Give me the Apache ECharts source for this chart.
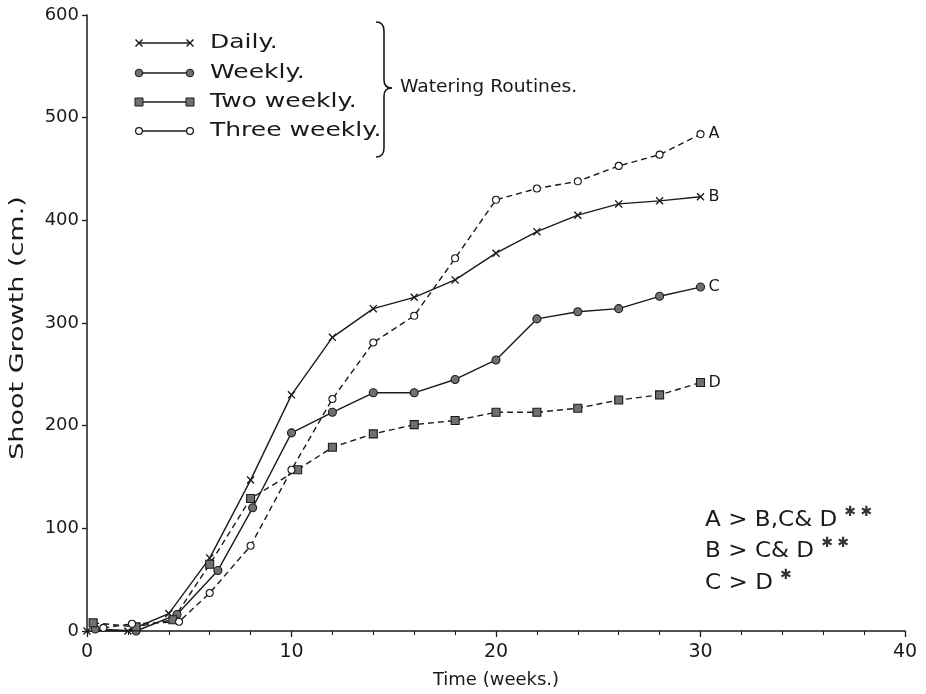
<!DOCTYPE html>
<html>
<head>
<meta charset="utf-8">
<script src="https://cdn.jsdelivr.net/npm/echarts@6/dist/echarts.min.js"></script>
<style>html,body{margin:0;padding:0;background:#fff}#c{width:926px;height:694px}</style>
</head>
<body>
<div id="c"></div>
<script>
// Data: [week, shoot growth cm]
const dailyData = [[0,0],[2,0],[4,17],[6,71],[8,147],[10,230],[12,286],[14,314],[16,325],[18,342],[20,368],[22,389],[24,405],[26,416],[28,419],[30,423]];
const weeklyData = [[0.4,2],[2.4,0],[4.4,16],[6.4,59],[8.1,120],[10,193],[12,213],[14,232],[16,232],[18,245],[20,264],[22,304],[24,311],[26,314],[28,326],[30,335]];
const twoWeeklyData = [[0.3,8],[2.4,4],[4.2,11],[6,65],[8,129],[10.3,157],[12,179],[14,192],[16,201],[18,205],[20,213],[22,213],[24,217],[26,225],[28,230],[30,242]];
const threeWeeklyData = [[0.8,3],[2.2,7],[4.5,9],[6,37],[8,83],[10,157],[12,226],[14,281],[16,307],[18,363],[20,420],[22,431],[24,438],[26,453],[28,464],[30,484]];
const seriesNames = ['Daily.','Weekly.','Two weekly.','Three weekly.'];
const endLetters = ['B','C','D','A'];
const yTicks = [0,100,200,300,400,500,600];
const xTicks = [0,10,20,30,40];
const statLines = ['A > B,C& D','B > C& D','C > D'];
const statStars = ['✱ ✱','✱ ✱','✱'];

const FONT = 'DejaVu Sans';
const INK = '#1a1a1a';
const GREY = '#707070';
const crossPath = 'path://M0,1.2 L1.2,0 L10,8.8 L8.8,10 Z M8.8,0 L10,1.2 L1.2,10 L0,8.8 Z';

const chart = echarts.init(document.getElementById('c'), null, {renderer:'canvas'});

function mkSeries(name, data, symbol, size, fill, dash, letter) {
  return {
    name: name, type: 'line', data: data,
    symbol: symbol, symbolSize: size, showAllSymbol: true,
    lineStyle: {color: INK, width: 1.4, type: dash},
    itemStyle: {color: fill, borderColor: INK, borderWidth: symbol === crossPath ? 0 : 1.1},
    endLabel: {show: true, formatter: letter, color: INK, fontFamily: FONT, fontSize: 16, distance: 8},
    z: 3, animation: false
  };
}

const legendY = [43, 73, 102, 131];
const G = [];
const lx1 = 139, lx2 = 190;
legendY.forEach((y, i) => {
  G.push({type:'line', shape:{x1:lx1, y1:y, x2:lx2, y2:y}, style:{stroke:INK, lineWidth:1.4}});
  [lx1, lx2].forEach(x => {
    if (i === 0) {
      G.push({type:'line', shape:{x1:x-3.5, y1:y-3.5, x2:x+3.5, y2:y+3.5}, style:{stroke:INK, lineWidth:1.4}});
      G.push({type:'line', shape:{x1:x-3.5, y1:y+3.5, x2:x+3.5, y2:y-3.5}, style:{stroke:INK, lineWidth:1.4}});
    } else if (i === 1) {
      G.push({type:'circle', shape:{cx:x, cy:y, r:3.8}, style:{fill:GREY, stroke:INK, lineWidth:1}});
    } else if (i === 2) {
      G.push({type:'rect', shape:{x:x-4, y:y-4, width:8, height:8}, style:{fill:GREY, stroke:INK, lineWidth:1}});
    } else {
      G.push({type:'circle', shape:{cx:x, cy:y, r:3.4}, style:{fill:'#fff', stroke:INK, lineWidth:1.3}});
    }
  });
  G.push({type:'text', x:210, y:y, scaleX:1.25, style:{text:seriesNames[i], font:'20px '+FONT, fill:INK, verticalAlign:'middle'}});
});
// brace
const braceStyle = {stroke:INK, fill:null, lineWidth:1.6};
G.push({type:'bezierCurve', shape:{x1:376,y1:22,x2:384,y2:31,cpx1:384,cpy1:22}, style:braceStyle});
G.push({type:'line', shape:{x1:384,y1:31,x2:384,y2:80}, style:braceStyle});
G.push({type:'bezierCurve', shape:{x1:384,y1:80,x2:392,y2:88,cpx1:384,cpy1:88}, style:braceStyle});
G.push({type:'bezierCurve', shape:{x1:392,y1:88,x2:384,y2:96,cpx1:384,cpy1:88}, style:braceStyle});
G.push({type:'line', shape:{x1:384,y1:96,x2:384,y2:148}, style:braceStyle});
G.push({type:'bezierCurve', shape:{x1:384,y1:148,x2:376,y2:157,cpx1:384,cpy1:157}, style:braceStyle});
G.push({type:'text', x:400, y:88, scaleX:1.1, style:{text:'Watering Routines.', font:'17px '+FONT, fill:INK, verticalAlign:'middle'}});

// y axis title as scaled text
G.push({type:'text', x:18, y:328, rotation:Math.PI/2, scaleX:1.35,
  style:{text:'Shoot Growth (cm.)', font:'20px '+FONT, fill:INK, align:'center', verticalAlign:'middle'}});

const statY = [521, 552, 584];
const ctx = document.createElement('canvas').getContext('2d');
ctx.font = '21px ' + FONT;
statLines.forEach((t, i) => {
  G.push({type:'text', x:705, y:statY[i], scaleX:1.1, style:{text:t, font:'21px '+FONT, fill:INK, verticalAlign:'middle'}});
  G.push({type:'text', x:705 + ctx.measureText(t).width * 1.1 + 7, y:statY[i] - 9,
    style:{text:statStars[i], font:'14px '+FONT, fill:'#333', verticalAlign:'middle'}});
});

chart.setOption({
  animation: false,
  backgroundColor: '#fff',
  grid: {left: 87, right: 21, top: 15, bottom: 59, containLabel: false},
  xAxis: {
    type: 'value', min: 0, max: 40, interval: 10,
    name: 'Time (weeks.)', nameLocation: 'middle', nameGap: 40,
    nameTextStyle: {fontFamily: FONT, fontSize: 18, color: INK},
    axisLine: {show: true, lineStyle: {color: INK, width: 1.5}},
    axisTick: {show: true, length: 6, lineStyle: {color: INK, width: 1.3}},
    minorTick: {show: true, splitNumber: 5, length: 4, lineStyle: {color: INK, width: 1.1}},
    axisLabel: {fontFamily: FONT, fontSize: 19, color: INK, margin: 12, formatter: v => xTicks.includes(v) ? String(v) : ''},
    splitLine: {show: false}
  },
  yAxis: {
    type: 'value', min: 0, max: 600, interval: 100,
    axisLine: {show: true, lineStyle: {color: INK, width: 1.5}},
    axisTick: {show: true, length: 5, lineStyle: {color: INK, width: 1.3}},
    axisLabel: {fontFamily: FONT, fontSize: 18, color: INK, margin: 8, formatter: v => yTicks.includes(v) ? String(v) : ''},
    splitLine: {show: false}
  },
  series: [
    mkSeries(seriesNames[0], dailyData, crossPath, 8, INK, 'solid', endLetters[0]),
    mkSeries(seriesNames[1], weeklyData, 'circle', 8, GREY, 'solid', endLetters[1]),
    mkSeries(seriesNames[2], twoWeeklyData, 'rect', 8, GREY, [6,4], endLetters[2]),
    mkSeries(seriesNames[3], threeWeeklyData, 'circle', 7, '#fff', [6,4], endLetters[3])
  ],
  graphic: G
});
</script>
</body>
</html>
